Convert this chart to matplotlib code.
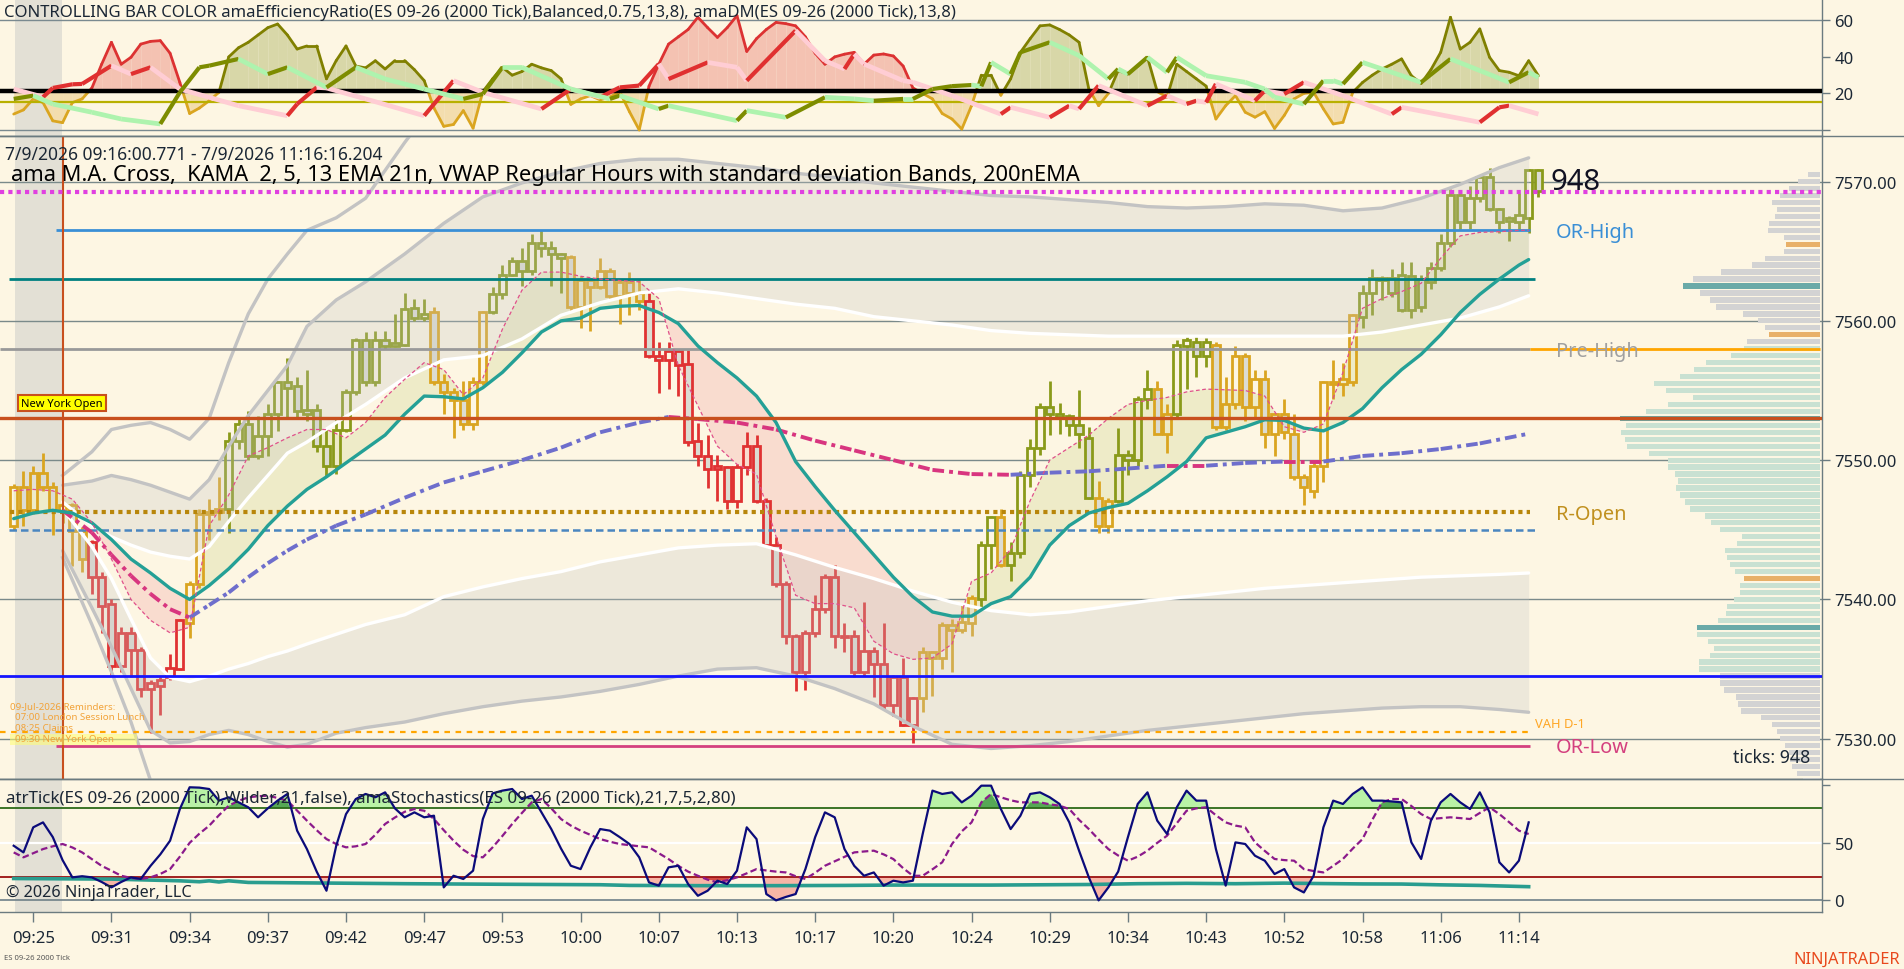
import numpy as np
import matplotlib
matplotlib.use("Agg")
import matplotlib.pyplot as plt
from matplotlib.patches import Rectangle
from matplotlib.lines import Line2D
from matplotlib.ticker import FormatStrFormatter

plt.rcParams['font.family'] = ['Noto Sans', 'DejaVu Sans']

# ======================= DATA =======================
time_labels = ["09:25", "09:31", "09:34", "09:37", "09:42", "09:47", "09:53", "10:00", "10:07", "10:13",
               "10:17", "10:20", "10:24", "10:29", "10:34", "10:43", "10:52", "10:58", "11:06", "11:14"]
label_bars = [2, 10, 18, 26, 34, 42, 50, 58, 66, 74, 82, 90, 98, 106, 114, 122, 130, 138, 146, 154]

opens = [7545.3, 7548.1, 7546.4, 7549.1, 7548.1, 7546.4, 7546.8, 7544.9, 7544.1, 7541.6,
         7539.7, 7535.2, 7537.6, 7536.4, 7533.6, 7534.2, 7534.4, 7535.0, 7538.3, 7541.1,
         7546.1, 7546.3, 7546.5, 7551.4, 7552.6, 7550.3, 7551.7, 7553.3, 7555.6, 7555.3,
         7553.6, 7553.6, 7551.0, 7549.6, 7552.2, 7554.9, 7558.6, 7555.6, 7558.6, 7558.2,
         7558.3, 7560.9, 7560.2, 7560.6, 7555.6, 7554.9, 7554.3, 7552.6, 7555.6, 7560.6,
         7561.9, 7563.3, 7564.3, 7563.6, 7565.6, 7565.2, 7564.8, 7564.6, 7561.0, 7562.9,
         7562.4, 7563.6, 7561.8, 7562.8, 7562.0, 7561.4, 7557.5, 7557.2, 7557.8, 7556.9,
         7551.4, 7550.3, 7549.4, 7549.5, 7547.1, 7549.5, 7551.0, 7547.1, 7543.9, 7541.1,
         7537.4, 7534.8, 7537.6, 7539.3, 7541.6, 7537.4, 7537.4, 7534.8, 7536.3, 7535.4,
         7532.4, 7534.4, 7531.0, 7532.9, 7536.2, 7535.8, 7538.2, 7537.8, 7538.3, 7540.0,
         7543.9, 7545.9, 7542.5, 7543.3, 7548.9, 7550.9, 7553.8, 7553.3, 7553.2, 7552.5,
         7551.6, 7547.3, 7545.3, 7547.1, 7550.4, 7550.0, 7554.4, 7555.1, 7551.9, 7553.3,
         7558.2, 7558.5, 7557.5, 7558.3, 7552.4, 7554.0, 7557.5, 7553.8, 7555.8, 7551.9,
         7553.3, 7551.9, 7548.8, 7547.8, 7549.6, 7555.6, 7555.5, 7555.6, 7560.3, 7562.0,
         7562.9, 7563.1, 7563.3, 7560.8, 7563.0, 7562.8, 7563.8, 7565.6, 7569.0, 7567.1,
         7568.8, 7570.3, 7568.0, 7567.2, 7567.1, 7567.4, 7570.8]
highs = [7548.3, 7549.2, 7549.6, 7550.5, 7548.4, 7547.0, 7546.9, 7545.2, 7544.3, 7542.0,
         7540.0, 7538.0, 7538.0, 7536.6, 7534.2, 7534.4, 7536.1, 7538.6, 7541.3, 7546.5,
         7547.2, 7548.8, 7552.0, 7553.1, 7553.5, 7553.2, 7554.0, 7555.7, 7557.3, 7556.0,
         7556.5, 7554.0, 7552.3, 7553.0, 7555.1, 7558.8, 7559.2, 7559.3, 7559.3, 7560.5,
         7562.0, 7561.6, 7561.6, 7561.0, 7556.2, 7555.2, 7555.7, 7556.0, 7560.7, 7562.4,
         7564.0, 7564.6, 7565.2, 7566.2, 7566.5, 7565.7, 7564.9, 7564.7, 7563.2, 7563.1,
         7564.5, 7563.8, 7563.0, 7563.5, 7563.0, 7562.0, 7558.5, 7558.5, 7557.9, 7557.9,
         7552.7, 7551.8, 7550.4, 7549.6, 7549.7, 7552.0, 7551.8, 7547.3, 7544.5, 7541.3,
         7537.5, 7537.8, 7540.3, 7541.8, 7542.5, 7538.3, 7537.8, 7539.8, 7536.6, 7538.3,
         7534.6, 7535.8, 7533.0, 7536.6, 7536.3, 7538.4, 7538.6, 7539.6, 7540.3, 7544.2,
         7546.0, 7546.5, 7544.1, 7549.2, 7551.5, 7554.1, 7555.7, 7554.1, 7553.3, 7555.0,
         7552.4, 7548.5, 7547.3, 7552.3, 7550.7, 7554.6, 7556.5, 7555.7, 7554.0, 7558.6,
         7558.9, 7558.9, 7558.8, 7558.5, 7556.0, 7558.2, 7557.7, 7556.5, 7556.5, 7553.4,
         7554.4, 7553.3, 7549.0, 7550.0, 7555.7, 7557.2, 7557.0, 7560.5, 7562.6, 7563.7,
         7563.2, 7563.7, 7564.2, 7564.2, 7563.3, 7564.2, 7566.2, 7569.5, 7569.4, 7569.7,
         7570.5, 7571.0, 7568.1, 7567.5, 7569.2, 7570.9, 7570.9]
lows = [7545.0, 7545.3, 7546.1, 7547.8, 7544.6, 7545.5, 7542.4, 7542.0, 7540.4, 7537.6,
        7534.6, 7534.8, 7534.4, 7533.0, 7530.4, 7531.7, 7534.2, 7534.9, 7537.2, 7540.8,
        7544.3, 7545.7, 7544.8, 7550.8, 7550.0, 7550.1, 7550.3, 7552.1, 7553.1, 7553.0,
        7552.8, 7550.6, 7548.8, 7549.0, 7552.0, 7554.7, 7555.3, 7555.3, 7558.0, 7558.1,
        7558.2, 7560.0, 7560.0, 7555.4, 7553.3, 7551.6, 7552.2, 7552.2, 7555.4, 7560.5,
        7561.6, 7563.2, 7562.5, 7563.3, 7564.6, 7562.5, 7562.0, 7560.6, 7559.5, 7559.3,
        7562.3, 7561.5, 7559.8, 7560.4, 7560.8, 7557.3, 7554.8, 7555.1, 7554.6, 7551.0,
        7549.6, 7548.0, 7547.1, 7546.5, 7546.6, 7548.9, 7546.9, 7543.8, 7540.9, 7536.8,
        7533.4, 7533.5, 7537.3, 7539.0, 7536.5, 7536.2, 7534.4, 7534.5, 7533.0, 7532.1,
        7531.6, 7530.9, 7529.7, 7531.9, 7533.1, 7535.0, 7534.8, 7537.6, 7537.4, 7539.4,
        7542.2, 7542.3, 7541.3, 7543.0, 7548.1, 7550.4, 7551.8, 7551.9, 7551.7, 7550.9,
        7547.2, 7544.8, 7544.8, 7546.9, 7548.9, 7549.6, 7553.7, 7551.9, 7550.5, 7553.0,
        7555.1, 7556.0, 7556.7, 7552.2, 7552.2, 7553.7, 7552.8, 7553.0, 7550.9, 7550.3,
        7551.5, 7548.6, 7546.8, 7547.3, 7548.4, 7554.4, 7554.6, 7555.3, 7559.5, 7560.4,
        7561.5, 7561.7, 7560.6, 7560.2, 7560.6, 7562.3, 7563.6, 7565.3, 7566.5, 7566.6,
        7568.5, 7567.9, 7566.3, 7565.75, 7566.5, 7566.3, 7568.9]
closes = [7548.1, 7546.4, 7549.1, 7548.1, 7546.4, 7546.8, 7544.9, 7542.9, 7541.6, 7539.5,
          7535.2, 7537.6, 7536.4, 7533.6, 7534.0, 7533.8, 7535.1, 7538.5, 7541.1, 7546.1,
          7546.3, 7546.5, 7551.4, 7552.6, 7550.3, 7551.7, 7553.3, 7555.6, 7555.2, 7553.5,
          7553.3, 7551.0, 7549.6, 7552.2, 7554.9, 7558.6, 7555.6, 7558.6, 7558.2, 7558.4,
          7560.85, 7560.2, 7560.5, 7555.6, 7554.9, 7554.3, 7552.6, 7555.6, 7560.6, 7561.9,
          7563.3, 7564.3, 7563.6, 7565.6, 7565.2, 7564.8, 7564.5, 7561.0, 7562.9, 7562.4,
          7563.6, 7561.8, 7562.8, 7562.0, 7561.4, 7557.5, 7557.2, 7557.8, 7556.8, 7551.3,
          7550.3, 7549.4, 7549.6, 7547.1, 7549.5, 7551.0, 7547.1, 7543.9, 7541.1, 7537.4,
          7534.8, 7537.6, 7539.3, 7541.6, 7537.4, 7537.3, 7534.8, 7536.3, 7535.4, 7532.4,
          7534.4, 7531.0, 7532.9, 7536.2, 7535.8, 7538.2, 7537.8, 7538.4, 7540.1, 7543.9,
          7545.9, 7542.5, 7543.3, 7548.9, 7550.9, 7553.8, 7553.3, 7553.1, 7552.5, 7551.9,
          7547.3, 7545.3, 7547.1, 7550.4, 7550.0, 7554.4, 7555.1, 7551.9, 7553.3, 7558.3,
          7558.6, 7557.5, 7558.5, 7552.4, 7554.0, 7557.5, 7553.8, 7555.8, 7551.9, 7553.3,
          7552.0, 7548.8, 7548.1, 7549.6, 7555.6, 7555.5, 7555.8, 7560.4, 7562.0, 7563.1,
          7563.1, 7562.0, 7560.8, 7563.2, 7561.0, 7563.8, 7565.6, 7569.0, 7567.1, 7568.8,
          7570.3, 7568.0, 7567.1, 7567.4, 7567.6, 7570.8, 7569.3]
bar_colors = ("oooooooo" "rrrrrrrrrr" "oooo" "ggggggggggggggggggggg" "oooooo" "gggggggg"
              "oooooooo" "rrrrrrrrrrrrrrrrrrrrrrrrrrrr" "oooooo" "gg" "o" "ggggggggg" "oo"
              "gggg" "oo" "gggg" "ooooooooooooooo" "ggggggggggggggggggg")

# VWAP standard deviation bands (bar index, price)
band_bars = [5, 8, 10, 12, 14, 16, 18, 20, 22, 24, 26, 28, 30, 33, 36, 40, 44, 48, 52, 56, 60, 64, 68,
             72, 76, 80, 84, 88, 92, 96, 100, 104, 108, 112, 116, 120, 124, 128, 132, 136, 140, 144,
             148, 152, 155]
band_up2 = [7548.2, 7548.5, 7548.9, 7548.6, 7548.2, 7547.7, 7547.2, 7548.6, 7551.0, 7553.2, 7555.0,
            7556.8, 7559.6, 7561.5, 7562.8, 7564.8, 7567.0, 7568.9, 7569.9, 7570.7, 7571.3, 7571.6,
            7571.6, 7571.3, 7571.0, 7570.6, 7570.3, 7569.9, 7569.6, 7569.3, 7569.0, 7568.9, 7568.7,
            7568.5, 7568.2, 7568.1, 7568.2, 7568.4, 7568.3, 7567.9, 7568.1, 7568.8, 7569.8, 7571.0,
            7571.7]
band_up1 = [7547.0, 7545.3, 7544.5, 7543.9, 7543.4, 7543.1, 7542.9, 7543.8, 7545.6, 7547.3, 7548.9,
            7550.5, 7551.3, 7552.7, 7554.0, 7555.9, 7557.2, 7557.5, 7558.7, 7560.4, 7561.3, 7562.0,
            7562.3, 7562.0, 7561.6, 7561.2, 7560.9, 7560.3, 7560.0, 7559.7, 7559.3, 7559.1, 7559.0,
            7558.9, 7558.9, 7558.9, 7558.9, 7558.9, 7558.9, 7558.9, 7559.2, 7559.7, 7560.2, 7561.0,
            7561.8]
band_lo1 = [7546.5, 7543.8, 7541.5, 7538.6, 7535.8, 7534.4, 7534.1, 7534.5, 7535.0, 7535.4, 7535.9,
            7536.3, 7536.8, 7537.5, 7538.2, 7538.9, 7540.2, 7540.9, 7541.5, 7542.0, 7542.7, 7543.2,
            7543.7, 7543.9, 7544.0, 7543.2, 7542.3, 7541.5, 7540.6, 7539.8, 7539.2, 7538.9, 7539.1,
            7539.5, 7539.9, 7540.2, 7540.5, 7540.8, 7541.0, 7541.2, 7541.4, 7541.6, 7541.7, 7541.8,
            7541.9]
band_lo2 = [7543.5, 7539.4, 7536.6, 7533.6, 7530.6, 7529.7, 7529.8, 7530.3, 7530.6, 7530.3, 7529.8,
            7529.4, 7529.6, 7530.4, 7530.8, 7531.2, 7531.8, 7532.3, 7532.7, 7533.0, 7533.4, 7533.9,
            7534.5, 7535.0, 7535.1, 7534.5, 7533.6, 7532.5, 7530.9, 7529.6, 7529.3, 7529.5, 7529.8,
            7530.2, 7530.6, 7530.9, 7531.2, 7531.5, 7531.8, 7532.0, 7532.2, 7532.3, 7532.3, 7532.1,
            7531.9]
band_up3_bars = [5, 8, 10, 12, 14, 16, 18, 20, 22, 24, 26, 28, 30, 33, 36, 40, 44]
band_up3 = [7548.9, 7550.6, 7552.2, 7552.5, 7552.7, 7552.2, 7551.5, 7553.0, 7557.0, 7560.5, 7563.0,
            7564.8, 7566.5, 7567.4, 7568.8, 7572.8, 7576.5]
band_lo3_bars = [5, 8, 10, 12, 14, 16]
band_lo3 = [7543.0, 7538.2, 7534.8, 7531.2, 7527.0, 7523.0]

# EMA 21 and KAMA on a common bar grid
ma_bars = list(range(0, 155, 2)) + [155]
ema21 = [7545.8, 7546.2, 7546.4, 7546.2, 7545.5, 7544.3, 7542.9, 7541.9, 7540.8, 7540.0,
         7541.0, 7542.2, 7543.6, 7545.3, 7546.7, 7547.9, 7548.8, 7549.8, 7550.8, 7551.8,
         7553.3, 7554.6, 7554.55, 7554.4, 7555.2, 7556.3, 7557.7, 7559.2, 7560.0, 7560.2,
         7560.9, 7561.05, 7561.1, 7560.6, 7559.8, 7558.2, 7557.0, 7555.9, 7554.6, 7552.7,
         7549.9, 7548.1, 7546.4, 7544.8, 7543.2, 7541.6, 7540.2, 7539.1, 7538.8, 7538.8,
         7539.7, 7540.2, 7541.6, 7543.9, 7545.3, 7546.2, 7546.6, 7546.9, 7547.8, 7548.8,
         7549.9, 7551.6, 7552.0, 7552.4, 7552.9, 7552.85, 7552.3, 7552.1, 7552.7, 7553.7,
         7555.2, 7556.5, 7557.6, 7559.0, 7560.6, 7561.9, 7563.0, 7564.0, 7564.4]
kama = [7547.8, 7547.9, 7547.8, 7547.2, 7545.5, 7542.9, 7540.0, 7538.5, 7537.6, 7538.0,
        7545.3, 7547.5, 7550.3, 7550.9, 7551.6, 7552.2, 7552.2, 7551.6, 7552.7, 7554.5,
        7555.8, 7557.0, 7556.5, 7554.7, 7555.9, 7559.4, 7562.2, 7563.5, 7563.5, 7563.2,
        7563.0, 7562.9, 7562.8, 7561.6, 7556.8, 7553.9, 7551.0, 7549.7, 7549.0, 7544.5,
        7540.3, 7539.7, 7539.7, 7539.4, 7537.0, 7536.1, 7535.7, 7535.8, 7536.8, 7541.3,
        7541.9, 7543.6, 7547.1, 7550.0, 7550.9, 7551.8, 7553.0, 7554.0, 7554.3, 7554.5,
        7554.9, 7555.1, 7555.05, 7555.0, 7554.6, 7552.4, 7552.0, 7552.6, 7556.3, 7560.9,
        7561.6, 7562.1, 7562.7, 7564.5, 7566.1, 7566.35, 7566.4, 7566.5, 7566.5]

# 200 nEMA
ema200_bars = [5, 8, 10, 12, 14, 16, 18, 20, 22, 24, 26, 28, 30, 33, 36, 40, 44, 48, 52, 56, 60, 64,
               67, 70, 74, 78, 82, 86, 90, 94, 98, 102, 106, 110, 114, 118, 122, 126, 130, 134, 138,
               142, 146, 150, 155]
ema200 = [7546.4, 7544.8, 7543.2, 7541.7, 7540.4, 7539.3, 7538.7, 7539.6, 7540.5, 7541.6, 7542.6,
          7543.5, 7544.3, 7545.3, 7546.1, 7547.3, 7548.4, 7549.2, 7550.0, 7550.9, 7552.0, 7552.7,
          7553.1, 7552.95, 7552.7, 7552.2, 7551.4, 7550.7, 7550.0, 7549.3, 7549.0, 7548.95, 7549.1,
          7549.2, 7549.4, 7549.6, 7549.6, 7549.8, 7549.9, 7549.9, 7550.3, 7550.5, 7550.8, 7551.2,
          7551.9]

# price levels
lvl_magenta = 7569.25
lvl_or_high = 7566.5
lvl_teal = 7563.0
lvl_pre_high = 7558.0
lvl_ny_open = 7553.0
lvl_r_open = 7546.25
lvl_blue_dash = 7545.0
lvl_blue = 7534.5
lvl_vah = 7530.5
lvl_or_low = 7529.5
price_ticks = [7530, 7540, 7550, 7560, 7570]

# volume profile (price, relative volume)
vp_prices = [7570.5 - 0.5 * k for k in range(88)]
vp_vols = [12, 22, 31, 40, 48, 43, 45, 51, 52, 36,
           34, 36, 55, 68, 99, 127, 137, 120, 110, 104,
           77, 62, 55, 51, 73, 76, 89, 114, 126, 140,
           166, 154, 127, 152, 174, 200, 194, 199, 195, 193,
           171, 152, 152, 145, 142, 144, 140, 135, 130, 115,
           109, 100, 78, 83, 95, 93, 90, 85, 76, 80,
           80, 86, 93, 94, 102, 123, 123, 112, 106, 110,
           121, 121, 100, 100, 96, 84, 82, 79, 59, 48,
           43, 40, 35, 31, 30, 28, 23, 17]
vp_value_area = (7535.0, 7558.0)
vp_teal_levels = [7562.5, 7553.0, 7538.0]
vp_orange_levels = [7565.5, 7559.0, 7541.5]

# Efficiency ratio (top panel) per bar
er_values = [8.7, 11, 17, 15, 5, 4, 15, 17, 23, 36,
             48, 36, 39.8, 47, 48.5, 48.9, 42, 26, 9, 12,
             16, 20.6, 40, 45, 48, 52, 56, 58, 52, 44.3,
             46, 46, 28, 38, 46, 35, 34, 37.9, 33.4, 38,
             38, 33, 27, 12, 2, 3, 10.6, 1, 21, 28,
             34.3, 30, 32, 36, 34, 32.5, 28, 14, 17, 18.8,
             16.5, 18, 21, 10, 0, 24, 36, 47, 51, 55,
             61.7, 56, 50.7, 56, 62.6, 43, 50, 55, 58.9, 58.2,
             57, 51, 42, 36, 40, 41.5, 42.5, 36, 41, 41.6,
             40.5, 35, 23, 20, 17, 9, 6, 0.5, 13.3, 30,
             30, 19, 28, 42.5, 50, 57, 57.5, 55, 52, 48,
             22.4, 13.3, 20, 32.5, 30.6, 35, 39.8, 21, 18, 36,
             32, 28, 24, 6, 13.3, 18.8, 9.7, 7, 10, 0.8,
             8, 17, 20, 20.6, 11.5, 3.3, 4.2, 20.6, 26, 30,
             33.4, 36, 38.9, 29.7, 25.5, 33, 42.5, 61.7, 44.3, 48,
             55.3, 39.8, 32.5, 31.6, 29.7, 37.9, 29.7]
er_level = 21.5
er_lower = 15.5

# amaDM: +DI and -DI
pdi_bars = [0, 2, 4, 8, 11, 15, 17, 19, 20, 23, 26, 28, 32, 35, 38, 42, 46, 48, 50, 52, 57, 61, 62,
            66, 67, 74, 75, 79, 83, 86, 88, 91, 92, 94, 96, 98, 99, 100, 102, 103, 106, 109, 112,
            113, 114, 116, 118, 119, 122, 126, 128, 129, 132, 134, 135, 136, 138, 144, 147, 153,
            155, 156]
pdi_vals = [17, 18.8, 14.2, 9.7, 6, 3.3, 20.6, 34.3, 35.2, 38.9, 30.6, 34.3, 23.3, 34.3, 27.9, 22.4,
            17, 19.7, 34.3, 34.3, 22.4, 17, 18.8, 11.5, 13.3, 5.1, 10.6, 6.9, 17.9, 17, 16, 17, 17,
            22.4, 24, 24.6, 23.9, 37, 30.6, 42.5, 48, 40.7, 27.9, 33.4, 30.6, 39.8, 31.6, 39.8,
            29.7, 26.1, 22.4, 17.9, 14.2, 27, 27, 25.2, 37, 26.1, 38.9, 26.1, 31.6, 28.8]
mdi_bars = [0, 3, 4, 6, 7, 10, 12, 14, 17, 23, 28, 29, 31, 32, 36, 42, 45, 48, 54, 57, 60, 62, 64,
            66, 67, 71, 74, 75, 80, 83, 85, 86, 87, 91, 92, 96, 101, 102, 106, 108, 109, 111, 116,
            118, 120, 121, 122, 123, 127, 128, 130, 132, 136, 141, 142, 150, 152, 153, 156]
mdi_vals = [22.4, 18, 23, 25, 25.2, 35.2, 30.6, 34.3, 22.4, 13.3, 7.8, 14.2, 23.3, 23, 17, 7.8, 27,
            20.6, 11.5, 22.4, 17.9, 23.3, 24.3, 36.1, 27.9, 37, 34.3, 27, 54.4, 37.9, 33.4, 41.6,
            36.1, 27, 26.1, 18.8, 8.7, 12.4, 6.9, 13.3, 11.5, 24.3, 13.3, 18.8, 14.2, 16, 15.1,
            25.2, 16, 21.5, 19.7, 26.1, 18.8, 8.7, 12.4, 4.2, 12.4, 13.3, 8.7]

# Stochastics %K / %D and ATR (bottom panel)
stoch_k = [47.5, 41.7, 63.5, 67.8, 55, 35, 20, 21, 20, 16,
           11.3, 16, 20, 18.6, 30, 40, 51.9, 79.4, 98.3, 98,
           96.8, 86.7, 89.6, 85.2, 80.9, 72.2, 80, 86.7, 92.5, 60.6,
           44.6, 25, 8.4, 47.5, 75, 88.1, 92.5, 89.6, 93.9, 80,
           72.2, 76.5, 72.2, 73.6, 11.3, 21.4, 18.6, 25.8, 70.7, 93,
           95.4, 96.8, 88.1, 91, 76.5, 62, 45, 30.1, 27.2, 46.1,
           62, 60.6, 55, 49, 37.4, 15.6, 12.8, 28.7, 30.1, 14.2,
           4, 8.4, 17.1, 14.2, 25.8, 63.5, 53.3, 5.5, 0, 3,
           5.5, 27.2, 55, 76.5, 72.2, 44.6, 30, 21.4, 24.3, 12.8,
           17.1, 15.6, 17.1, 57.7, 95.4, 92.5, 93.9, 85.2, 91, 99.7,
           99.7, 79.4, 62, 73.6, 92.5, 93.9, 89.6, 83.8, 67.8, 43.2,
           20, 0, 11.3, 25, 55, 83.8, 93.9, 69.3, 57.7, 80.9,
           95.4, 86.7, 86.7, 44.6, 12.8, 50.4, 49, 38.8, 34.5, 22.9,
           27.2, 11.3, 6.9, 21.4, 63.5, 86.7, 83.8, 92.5, 98.3, 86.7,
           86.7, 86, 85.2, 50.4, 36, 69.3, 85.2, 92.5, 85.2, 79.4,
           93.9, 76.5, 33.1, 24.3, 34.5, 67.8]
stoch_d = [41.7, 37.4, 41, 44.6, 47, 49, 46, 41.7, 35.9, 30,
           25.8, 21.4, 19.5, 18.6, 20, 23, 27.2, 38, 50, 58,
           64.9, 74, 82.3, 86.5, 89.6, 90.5, 91, 89, 86.7, 78,
           69.3, 61, 53.3, 49, 46.1, 47, 49, 57, 66.4, 72,
           77, 79.4, 77.9, 70.7, 61, 51.9, 44, 38.5, 37.4, 46.1,
           56, 66.4, 76, 85.2, 88.1, 80, 70.7, 65, 60.6, 57,
           53.3, 51, 49, 48, 47, 46.1, 41, 35.9, 30, 25,
           21.4, 18, 15.6, 17.5, 20, 23.5, 27.2, 26, 25, 24.3,
           21, 18.6, 24, 30.1, 34, 38, 41.7, 42.5, 43.2, 40,
           35.9, 28, 21.4, 21.4, 27, 33.1, 49, 60, 67.8, 85.2,
           92.5, 89.6, 87, 85.2, 85.2, 85.2, 83.5, 82.3, 79.4, 70,
           62, 53, 44.6, 39, 34.5, 38, 43.2, 50, 56.2, 67,
           77.9, 80, 80.9, 74, 67.8, 65, 63.5, 50.4, 43, 36,
           35, 34.5, 27.2, 25.5, 24.3, 30, 36, 45, 53.3, 70,
           85.2, 88.1, 88.1, 82, 75, 70.7, 71.5, 72.2, 71.5, 70.7,
           76, 80.9, 75, 68, 60.6, 57.7]
atr_bars = [0, 10, 17, 19, 20, 21, 22, 24, 30, 40, 50, 60, 63, 70, 78, 85, 90, 96, 100, 110, 115,
            120, 125, 130, 134, 138, 142, 146, 150, 155]
atr_vals = [19.0, 18.5, 17.0, 16.2, 17.0, 16.0, 17.0, 15.6, 15.2, 14.5, 14.0, 13.6, 13.0, 12.8,
            12.8, 13.0, 13.3, 13.3, 13.3, 13.8, 14.5, 14.8, 14.5, 15.0, 14.6, 14.3, 14.2, 13.5,
            13.0, 11.9]
stoch_upper, stoch_mid, stoch_lower = 80, 50, 20

top_title = ("CONTROLLING BAR COLOR amaEfficiencyRatio(ES 09-26 (2000 Tick),Balanced,0.75,13,8), "
             "amaDM(ES 09-26 (2000 Tick),13,8)")
date_text = "7/9/2026 09:16:00.771 - 7/9/2026 11:16:16.204"
main_title = ("ama M.A. Cross,  KAMA  2, 5, 13 EMA 21n, VWAP Regular Hours with standard "
              "deviation Bands, 200nEMA")
bot_title = ("atrTick(ES 09-26 (2000 Tick),Wilder,21,false), amaStochastics(ES 09-26 (2000 Tick),"
             "21,7,5,2,80)")
reminders = ["09-Jul-2026 Reminders:", "  07:00 London Session Lunch", "  08:25 Claims",
             "  09:30 New York Open"]

# ======================= LAYOUT / STYLE =======================
W, H = 1904, 970
BG = "#fdf6e3"
SP = "#6b7b80"
TXT = "#1b2735"
PLOT_R = 1822

fig = plt.figure(figsize=(W / 100, H / 100), dpi=100, facecolor=BG)


def add_ax(x0, y0, x1, y1):
    return fig.add_axes([x0 / W, 1 - y1 / H, (x1 - x0) / W, (y1 - y0) / H])


def bx(px):
    return (px - 13.7) / 9.774


XL = (bx(0), bx(PLOT_R))


def style(a):
    a.set_facecolor(BG)
    a.set_xlim(*XL)
    a.spines['left'].set_visible(False)
    for s in ('top', 'bottom', 'right'):
        a.spines[s].set_color(SP)
        a.spines[s].set_linewidth(1.0)
    a.yaxis.tick_right()
    a.tick_params(axis='y', direction='out', length=6, width=1, color=SP,
                  labelsize=12, labelcolor=TXT, pad=3)
    a.tick_params(axis='x', bottom=False, labelbottom=False, top=False, labeltop=False)


ax_top = add_ax(0, 0, PLOT_R, 137)
ax = add_ax(0, 137, PLOT_R, 780)
ax_bot = add_ax(0, 780, PLOT_R, 913)
for a in (ax_top, ax, ax_bot):
    style(a)
    a.axvspan(bx(15), bx(62), color="#e3e0d5", lw=0, zorder=0.5)
ax_top.spines['top'].set_visible(False)

# ======================= TOP PANEL =======================
ax_top.set_ylim(-3.3, 71.7)
ax_top.set_yticks([0, 20, 40, 60])
ax_top.set_yticklabels(['', '20', '40', '60'])
ax_top.axhline(60, color="#7a8a90", lw=1, zorder=1)
ax_top.axhline(0, color="#7a8a90", lw=1, zorder=1)

er_line = {'g': "#808000", 'r': "#dc3232", 'o': "#daa520"}
er_fill = {'g': "#d8d7a8", 'r': "#f4c2b2", 'o': "#f3ddae"}
base = er_level
for i in range(len(er_values) - 1):
    x0, x1 = i, i + 1
    y0, y1 = er_values[i], er_values[i + 1]
    if (y0 - base) * (y1 - base) < 0:
        xc = x0 + (base - y0) / (y1 - y0)
        pieces = [(x0, y0, xc, base), (xc, base, x1, y1)]
    else:
        pieces = [(x0, y0, x1, y1)]
    for (a0, b0, a1, b1) in pieces:
        if (b0 + b1) / 2 >= base:
            key = 'r' if 'r' in (bar_colors[i], bar_colors[i + 1]) else 'g'
        else:
            key = 'o'
        ax_top.fill_between([a0, a1], [b0, b1], base, color=er_fill[key], lw=0, zorder=2)
        ax_top.plot([a0, a1], [b0, b1], color=er_line[key], lw=2.0, zorder=3,
                    solid_capstyle='round')

ax_top.axhline(er_level, color='black', lw=3.2, zorder=4)
ax_top.axhline(er_lower, color='#b8b000', lw=1.6, zorder=4)


def seg_plot(a, xs, ys, up_col, dn_col, lw_up, lw_dn, z):
    for j in range(len(xs) - 1):
        rising = ys[j + 1] > ys[j]
        a.plot(xs[j:j + 2], ys[j:j + 2], color=up_col if rising else dn_col,
               lw=lw_up if rising else lw_dn, solid_capstyle='butt', zorder=z)


seg_plot(ax_top, mdi_bars, mdi_vals, "#e03030", "#ffcdd4", 3.0, 3.4, 5)
seg_plot(ax_top, pdi_bars, pdi_vals, "#7d8c00", "#aef3ae", 3.0, 3.4, 5.1)

# ======================= MAIN PANEL =======================
ax.set_ylim(7527.11, 7573.27)
ax.set_yticks(price_ticks)
ax.yaxis.set_major_formatter(FormatStrFormatter('%.2f'))
for p in price_ticks:
    ax.axhline(p, color="#7a8a8a", lw=1, zorder=1)

# KAMA / EMA cross fill
mb = np.array(ma_bars, float)
ke = np.array(kama)
ee = np.array(ema21)
ax.fill_between(mb, ke, ee, where=ke >= ee, interpolate=True, color="#eeebc8", lw=0, zorder=1.3)
ax.fill_between(mb, ke, ee, where=ke < ee, interpolate=True, color="#f9dccf", lw=0, zorder=1.3)

# candles
cmap = {'g': "#8a9a1a", 'r': "#e03232", 'o': "#daa520"}
BW = 0.74
CLW = 2.0
for i in range(len(opens)):
    c = cmap[bar_colors[i]]
    o, h, l, cl = opens[i], highs[i], lows[i], closes[i]
    top, bot = max(o, cl), min(o, cl)
    ax.vlines(i, top, h, color=c, lw=CLW, zorder=2)
    ax.vlines(i, l, bot, color=c, lw=CLW, zorder=2)
    face = 'none' if cl >= o else "#dcdcd2"
    ax.add_patch(Rectangle((i - BW / 2, bot), BW, max(top - bot, 0.06), facecolor=face,
                           edgecolor=c, lw=CLW, zorder=2.2))

# VWAP band fills (drawn over candles, translucent)
bb = np.array(band_bars, float)
ax.fill_between(bb, band_up2, band_up1, color="#c4c4c4", alpha=0.28, lw=0, zorder=2.6)
ax.fill_between(bb, band_lo1, band_lo2, color="#c4c4c4", alpha=0.28, lw=0, zorder=2.6)
for ys, col in ((band_up2, "#c3c3c3"), (band_lo2, "#c3c3c3"), (band_up1, "#ffffff"),
                (band_lo1, "#ffffff")):
    ax.plot(bb, ys, color=col, lw=2.4, zorder=3, solid_capstyle='round')
ax.plot(band_up3_bars, band_up3, color="#c3c3c3", lw=2.4, zorder=3)
ax.plot(band_lo3_bars, band_lo3, color="#c3c3c3", lw=2.4, zorder=3)

# level lines (partial width)
ax.hlines(lvl_or_high, bx(56), bx(1530), color="#3a8fd6", lw=2, zorder=3.2)
ax.hlines(lvl_teal, bx(9), bx(1535), color="#008080", lw=2, zorder=3.2)
ax.hlines(lvl_pre_high, bx(0), bx(1530), color="#999999", lw=2, zorder=3.2)
ax.hlines(lvl_r_open, bx(10), bx(1530), color="#b8860b", lw=3, linestyles=(0, (1, 1)), zorder=3.2)
ax.hlines(lvl_blue_dash, bx(9), bx(1535), color="#4a86c0", lw=1.8, linestyles=(0, (3, 1.6)), zorder=3.2)
ax.hlines(lvl_vah, bx(0), bx(1528), color="#ffa500", lw=1.6, linestyles=(0, (2.5, 2.5)), zorder=3.2)
ax.hlines(lvl_or_low, bx(56), bx(1530), color="#d4407f", lw=2, zorder=3.2)
ax.axvline(5, color="#c8501e", lw=1.5, zorder=3.2)

# 200 nEMA dash-dot, coloured by slope
for j in range(len(ema200_bars) - 1):
    col = "#6e6ecc" if ema200[j + 1] > ema200[j] else "#d8357f"
    ax.plot(ema200_bars[j:j + 2], ema200[j:j + 2], color=col, lw=2.8,
            linestyle=(0, (3, 1.3, 1, 1.3)), zorder=3.4)

# EMA 21 and KAMA
ax.plot(mb, ee, color="#24a096", lw=2.4, zorder=3.5, solid_capstyle='round')
ax.plot(mb, ke, color="#e0508a", lw=0.9, linestyle=(0, (3, 2)), zorder=3.6)

# New York Open label
ax.text(4.94, 7554.1, "New York Open", ha='center', va='center', fontsize=8, color='black',
        zorder=7, bbox=dict(boxstyle='square,pad=0.25', fc='#ffff00', ec='#c8501e', lw=1.5))

# volume profile on a twin x-axis (pixel-like volume scale, right anchored)
ax_vp = ax.twiny()
ax_vp.set_xlim(PLOT_R, 0)
ax_vp.tick_params(top=False, labeltop=False, bottom=False, labelbottom=False)
for s in ax_vp.spines.values():
    s.set_visible(False)
vp_cols = []
for p in vp_prices:
    if p in vp_teal_levels:
        vp_cols.append("#6aaaa8")
    elif p in vp_orange_levels:
        vp_cols.append("#e8b068")
    elif vp_value_area[0] <= p <= vp_value_area[1]:
        vp_cols.append("#c9e1d2")
    else:
        vp_cols.append("#d3d3d3")
ax_vp.barh(vp_prices, vp_vols, height=0.38, left=2, color=vp_cols, lw=0, zorder=1)
# full-width level lines drawn above profile
ax_vp.axhline(lvl_magenta, color="#e040e0", lw=3, linestyle=(0, (1, 1)), zorder=4)
ax_vp.axhline(lvl_ny_open, color="#c8501e", lw=2.4, zorder=4)
ax_vp.axhline(lvl_blue, color="#1515ff", lw=2, zorder=4)
ax_vp.hlines(lvl_pre_high, PLOT_R - 1530, 2, color="#ffa500", lw=2, zorder=4)

# ======================= BOTTOM PANEL =======================
ax_bot.set_ylim(-10.1, 105.5)
ax_bot.set_yticks([0, 50, 100])
ax_bot.set_yticklabels(['0', '50', ''])
K = np.array(stoch_k, float)
D = np.array(stoch_d, float)
kx = np.arange(len(K))
ax_bot.fill_between(kx, stoch_upper, K, where=K > stoch_upper, interpolate=True,
                    color="#b9f2a6", lw=0, zorder=1.5)
mn = np.minimum(K, D)
ax_bot.fill_between(kx, stoch_upper, mn, where=mn > stoch_upper, interpolate=True,
                    color="#56a856", lw=0, zorder=1.6)
ax_bot.fill_between(kx, stoch_lower, K, where=K < stoch_lower, interpolate=True,
                    color="#f8b5a6", lw=0, zorder=1.5)
mx = np.maximum(K, D)
ax_bot.fill_between(kx, stoch_lower, mx, where=mx < stoch_lower, interpolate=True,
                    color="#d24a44", lw=0, zorder=1.6)
ax_bot.axhline(stoch_upper, color="#2c6a18", lw=1.3, zorder=2)
ax_bot.axhline(stoch_lower, color="#9b1010", lw=1.3, zorder=2)
ax_bot.axhline(stoch_mid, color="white", lw=1.6, zorder=2)
ax_bot.axhline(0, color="#6f8088", lw=1.2, zorder=2)
ax_bot.plot(atr_bars, atr_vals, color="#2a9d8f", lw=2.6, zorder=3)
ax_bot.plot(kx, D, color="#8b1a8b", lw=1.6, linestyle=(0, (3, 1.5)), zorder=3.2)
ax_bot.plot(kx, K, color="#0b0b7a", lw=1.6, zorder=3.3)
ax_bot.set_xticks(label_bars)
ax_bot.set_xticklabels(time_labels)
ax_bot.tick_params(axis='x', bottom=True, labelbottom=True, direction='out', length=7, width=1,
                   color=SP, labelsize=12, labelcolor=TXT, pad=6)

# ======================= FIGURE-LEVEL LINES & TEXT =======================
for yp in (137, 780):
    fig.add_artist(Line2D([0, 1], [1 - yp / H] * 2, color=SP, lw=1, transform=fig.transFigure))


def ftxt(px, py, s, **kw):
    fig.text(px / W, 1 - py / H, s, va='center', **kw)


ftxt(4, 13, top_title, fontsize=12, color=TXT)
ftxt(5, 155, date_text, fontsize=12.5, color=TXT)
ftxt(11, 176, main_title, fontsize=15.7, color="black")
ftxt(1551, 183, "948", fontsize=21, color="#111122")
ftxt(1556, 233, "OR-High", fontsize=14.4, color="#3a8fd6")
ftxt(1556, 352, "Pre-High", fontsize=14.4, color="#a0a0a0")
ftxt(1556, 515, "R-Open", fontsize=14.4, color="#c0901e")
ftxt(1535, 725, "VAH D-1", fontsize=9.3, color="#ffa726", fontweight='bold')
ftxt(1556, 748, "OR-Low", fontsize=14.4, color="#d4407f")
ftxt(1733, 758, "ticks: 948", fontsize=12.8, color=TXT)
for k, line in enumerate(reminders):
    ftxt(10, 707 + 11 * k, line, fontsize=7, color="#f2a33a")
fig.add_artist(Rectangle((10 / W, 1 - 746 / H), 127 / W, 11 / H, transform=fig.transFigure,
                         facecolor="#ffff70", alpha=0.55, lw=0, zorder=2.5))
ftxt(6, 799, bot_title, fontsize=12.2, color=TXT)
ftxt(6, 893, "\u00a9 2026 NinjaTrader, LLC", fontsize=11.7, color=TXT)
ftxt(4, 959, "ES 09-26 2000 Tick", fontsize=5.5, color="#555555")
fig.text(1900 / W, 1 - 960 / H, "NINJATRADER", ha='right', va='center', fontsize=11.8,
         fontweight='bold', color="#e8491d")

fig.savefig("out.png", dpi=100, facecolor=BG)
